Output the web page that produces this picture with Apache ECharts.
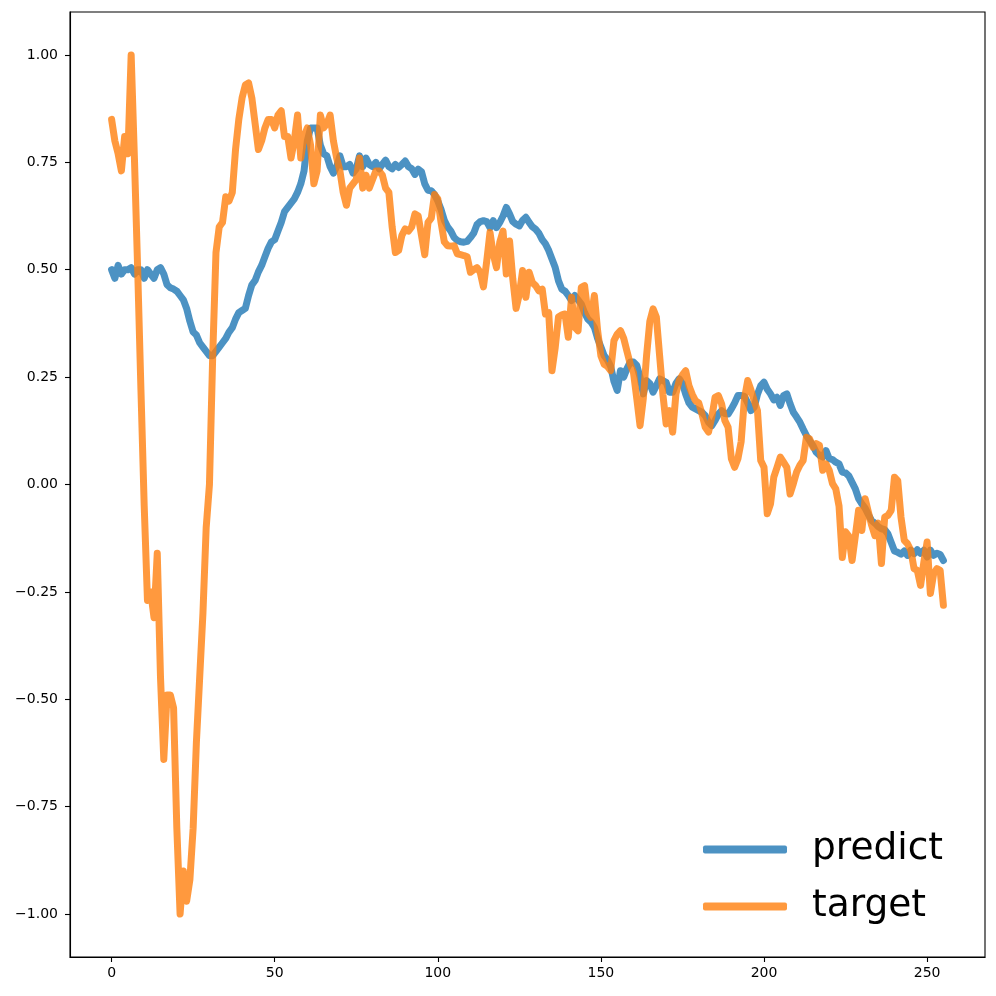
<!DOCTYPE html>
<html>
<head>
<meta charset="utf-8">
<script src="https://cdn.jsdelivr.net/npm/echarts@6/dist/echarts.min.js"></script>
<style>html,body{margin:0;padding:0;background:#fff}#c{width:996px;height:996px}</style>
</head>
<body>
<div id="c"></div>
<script>
const seriesNames = ['predict', 'target'];
const predict = [
0.50,0.48,0.51,0.49,0.50,0.50,0.505,0.49,0.50,0.50,
0.48,0.50,0.49,0.48,0.50,0.505,0.49,0.465,0.458,0.455,
0.45,0.44,0.43,0.41,0.38,0.355,0.348,0.33,0.32,0.31,
0.30,0.30,0.31,0.32,0.33,0.34,0.355,0.365,0.385,0.40,
0.405,0.41,0.44,0.465,0.475,0.495,0.51,0.53,0.55,0.565,
0.57,0.59,0.61,0.635,0.645,0.655,0.665,0.68,0.70,0.73,
0.80,0.83,0.83,0.83,0.79,0.77,0.765,0.74,0.725,0.74,
0.765,0.74,0.74,0.745,0.725,0.735,0.765,0.74,0.76,0.745,
0.74,0.75,0.735,0.745,0.755,0.74,0.735,0.745,0.738,0.745,
0.753,0.74,0.735,0.722,0.734,0.728,0.70,0.685,0.684,0.675,
0.66,0.64,0.615,0.60,0.59,0.575,0.568,0.565,0.564,0.566,
0.575,0.585,0.605,0.612,0.614,0.612,0.598,0.614,0.598,0.61,
0.625,0.645,0.63,0.612,0.606,0.602,0.615,0.622,0.61,0.60,
0.594,0.585,0.57,0.56,0.545,0.525,0.505,0.474,0.455,0.45,
0.44,0.428,0.44,0.43,0.42,0.40,0.385,0.378,0.366,0.34,
0.32,0.30,0.29,0.275,0.24,0.219,0.265,0.25,0.27,0.285,
0.285,0.277,0.25,0.211,0.242,0.235,0.215,0.23,0.246,0.242,
0.238,0.215,0.215,0.235,0.246,0.235,0.21,0.19,0.18,0.176,
0.172,0.168,0.16,0.145,0.137,0.149,0.164,0.172,0.165,0.164,
0.176,0.19,0.207,0.207,0.205,0.19,0.172,0.18,0.21,0.23,
0.238,0.222,0.211,0.197,0.203,0.184,0.207,0.211,0.188,0.168,
0.157,0.145,0.129,0.114,0.102,0.091,0.075,0.068,0.064,0.079,
0.06,0.058,0.052,0.048,0.029,0.027,0.02,0.005,-0.01,-0.033,
-0.045,-0.055,-0.07,-0.084,-0.09,-0.098,-0.103,-0.105,-0.115,-0.135,
-0.155,-0.158,-0.162,-0.155,-0.165,-0.153,-0.161,-0.152,-0.16,-0.153,
-0.169,-0.153,-0.165,-0.16,-0.163,-0.177
];
const target = [
0.85,0.80,0.77,0.73,0.81,0.77,1.00,0.76,0.50,0.22,
-0.05,-0.27,-0.25,-0.31,-0.16,-0.45,-0.64,-0.49,-0.49,-0.52,
-0.80,-1.00,-0.90,-0.97,-0.92,-0.80,-0.60,-0.45,-0.30,-0.10,
0.00,0.30,0.54,0.60,0.61,0.67,0.66,0.68,0.78,0.85,
0.90,0.93,0.935,0.90,0.84,0.78,0.80,0.83,0.85,0.85,
0.83,0.86,0.87,0.81,0.81,0.76,0.80,0.86,0.76,0.81,
0.83,0.79,0.70,0.73,0.86,0.83,0.84,0.86,0.80,0.76,
0.73,0.68,0.65,0.69,0.70,0.71,0.76,0.69,0.72,0.69,
0.71,0.73,0.73,0.72,0.69,0.68,0.60,0.54,0.545,0.58,
0.595,0.59,0.60,0.63,0.625,0.58,0.535,0.61,0.62,0.675,
0.665,0.61,0.565,0.556,0.555,0.556,0.537,0.535,0.533,0.53,
0.494,0.50,0.505,0.494,0.46,0.52,0.587,0.536,0.505,0.564,
0.59,0.49,0.567,0.478,0.41,0.443,0.498,0.436,0.494,0.47,
0.463,0.451,0.455,0.397,0.40,0.265,0.319,0.39,0.395,0.397,
0.343,0.436,0.366,0.358,0.459,0.463,0.40,0.389,0.44,0.358,
0.30,0.28,0.275,0.265,0.335,0.35,0.358,0.34,0.31,0.28,
0.26,0.20,0.137,0.20,0.30,0.38,0.409,0.39,0.30,0.21,
0.141,0.172,0.122,0.211,0.242,0.255,0.265,0.23,0.21,0.195,
0.19,0.164,0.133,0.122,0.157,0.203,0.207,0.188,0.149,0.133,
0.06,0.04,0.06,0.10,0.20,0.242,0.22,0.195,0.172,0.056,
0.04,-0.068,-0.045,0.017,0.04,0.064,0.052,0.04,-0.022,0.002,
0.029,0.045,0.056,0.11,0.106,0.087,0.095,0.091,0.033,0.048,
0.033,0.002,-0.01,-0.05,-0.17,-0.11,-0.12,-0.177,-0.12,-0.06,
-0.107,-0.033,-0.064,-0.095,-0.119,-0.09,-0.184,-0.076,-0.072,-0.06,
0.017,0.009,-0.076,-0.13,-0.138,-0.153,-0.196,-0.2,-0.235,-0.181,
-0.134,-0.254,-0.208,-0.196,-0.2,-0.281
];
const xTicks = [0, 50, 100, 150, 200, 250];
const yTicks = [-1.0, -0.75, -0.5, -0.25, 0.0, 0.25, 0.5, 0.75, 1.0];

const colors = ['#1f77b4', '#ff7f0e'];
const toPairs = arr => arr.map((v, i) => [i, v]);
const n = predict.length;
const allVals = predict.concat(target);
const dMin = Math.min(...allVals), dMax = Math.max(...allVals);
const xPad = (n - 1) * 0.05, yPad = (dMax - dMin) * 0.05;
const font = 'DejaVu Sans';
const fmtY = v => (v < 0 ? '\u2212' : '') + Math.abs(v).toFixed(2);

const chart = echarts.init(document.getElementById('c'), null, {renderer: 'canvas'});
chart.setOption({
  animation: false,
  backgroundColor: '#ffffff',
  grid: {left: 70, right: 11, top: 12, bottom: 39, show: true, borderColor: '#000', borderWidth: 1.1, backgroundColor: 'transparent', containLabel: false},
  xAxis: {
    type: 'value', min: -xPad, max: (n - 1) + xPad,
    axisLine: {show: true, onZero: false, lineStyle: {color: '#000', width: 1.1}},
    axisTick: {show: true, inside: false, length: 5, lineStyle: {color: '#000', width: 1.1}, customValues: xTicks},
    axisLabel: {show: true, margin: 9, color: '#000', fontFamily: font, fontSize: 14, customValues: xTicks, formatter: v => String(v)},
    splitLine: {show: false}
  },
  yAxis: {
    type: 'value', min: dMin - yPad, max: dMax + yPad,
    axisLine: {show: true, onZero: false, lineStyle: {color: '#000', width: 1.1}},
    axisTick: {show: true, inside: false, length: 5, lineStyle: {color: '#000', width: 1.1}, customValues: yTicks},
    axisLabel: {show: true, margin: 12, color: '#000', fontFamily: font, fontSize: 14, customValues: yTicks, formatter: fmtY},
    splitLine: {show: false}
  },
  legend: {
    show: true, orient: 'vertical', left: 698, top: 822,
    itemWidth: 84, itemHeight: 8, itemGap: 12,
    icon: 'roundRect',
    textStyle: {fontFamily: font, fontSize: 37.5, color: '#000', lineHeight: 45, padding: [0, 0, 0, 20]},
    data: seriesNames.map((nm, k) => ({name: nm, itemStyle: {color: colors[k], opacity: 0.8}}))
  },
  series: [
    {name: seriesNames[0], type: 'line', data: toPairs(predict), showSymbol: false, symbol: 'none',
     itemStyle: {color: colors[0], opacity: 0.8},
     lineStyle: {color: colors[0], width: 7, opacity: 0.8, cap: 'round', join: 'round'}, z: 2},
    {name: seriesNames[1], type: 'line', data: toPairs(target), showSymbol: false, symbol: 'none',
     itemStyle: {color: colors[1], opacity: 0.8},
     lineStyle: {color: colors[1], width: 7, opacity: 0.8, cap: 'round', join: 'round'}, z: 3}
  ]
});
</script>
</body>
</html>
